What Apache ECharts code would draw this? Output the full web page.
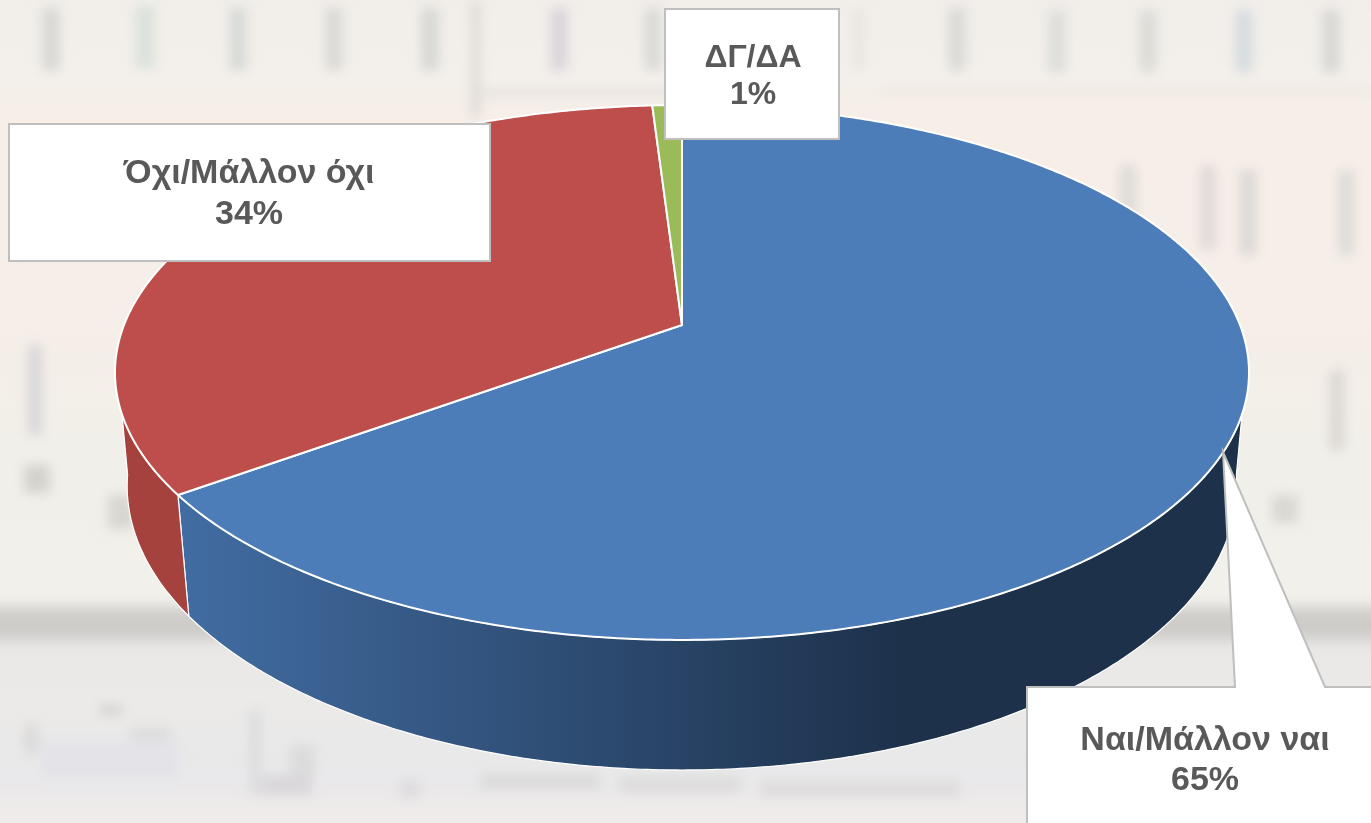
<!DOCTYPE html>
<html><head><meta charset="utf-8">
<style>
html,body{margin:0;padding:0;width:1371px;height:823px;overflow:hidden;background:#f3eeea}
#bg{position:absolute;left:-20px;top:-20px;width:1411px;height:863px;filter:blur(6px);overflow:hidden;background:linear-gradient(180deg,#f1eeea 0,#f3efea 100px,#f7eee8 140px,#f6eee8 340px,#f1efe9 470px,#f1f0ea 622px,#cfcdca 632px,#cdccc9 655px,#e9e8e6 665px,#ebeae8 720px,#e9e8ea 800px,#f0ecea 843px,#f0ecea 863px)}
#bg div{position:absolute}
#c{position:absolute;left:0;top:0;width:1371px;height:823px}
</style>
<script src="https://cdn.jsdelivr.net/npm/echarts@6/dist/echarts.min.js"></script>
</head><body>
<div id="bg"></div>
<div id="c"></div>
<script>
// ---- chart data ----
const categories = ['Ναι/Μάλλον ναι', 'Όχι/Μάλλον όχι', 'ΔΓ/ΔΑ'];
const values = [65, 34, 1];
const percentLabels = ['65%', '34%', '1%'];
const faceColors = ['#4c7db9', '#bd4e4b', '#9bbb59'];

// ---- perspective of the drawn disc (layout only) ----
const CX = 682, K = 0.1776;
const TOP = {a: 558, b: 259, y0: 325};
const BOT = {a: 546, b: 275, y0: 435.6};
const TOP_LIMIT = -19, BOT_LIMIT = -8; // silhouette angles, degrees below horizontal
const labelColor = '#595959', borderColor = '#bfbfbf';

// soft shapes of the faded photograph behind the chart
const bgTones = [
 [43,8,16,62,'#d6d6d3'],[136,6,18,62,'#d9e1db'],[230,8,16,62,'#d6d9d6'],[326,8,16,62,'#d9d8d5'],[422,8,16,62,'#d6d6d3'],
 [471,0,9,118,'#dedad5'],[551,8,16,62,'#dad3da'],[645,8,16,62,'#d9d9d7'],[855,8,8,62,'#e5e1dd'],[949,8,16,62,'#d9d9d6'],
 [1049,10,16,62,'#dcdcda'],[1140,10,16,62,'#dbdbd6'],[1236,10,16,62,'#d4dbdf'],[1323,10,16,62,'#d6d6d3'],
 [480,90,200,5,'#dedbd6'],[880,88,491,5,'#f0e6df'],
 [1120,165,16,85,'#dddbd7'],[1200,165,16,85,'#dfdbd9'],[1240,170,16,85,'#dad8d6'],[1338,170,16,85,'#dcdcd8'],
 [28,345,14,90,'#d8d6d8'],[24,465,26,28,'#d4d2cd'],[108,495,26,34,'#d8d6d0'],[1330,370,14,80,'#dad6d2'],[1272,495,26,28,'#dad8d2'],[1010,460,20,60,'#ede6e2'],
 [25,725,12,28,'#d8d7d6'],[100,705,22,10,'#d4d2d1'],[130,728,40,12,'#dcdbdb'],[250,710,10,85,'#dbdadc'],
 [290,745,24,30,'#dcdbdc'],[40,740,140,40,'#e4e3e8'],[262,775,50,20,'#d9d7db'],[400,780,20,18,'#dddbdd'],[480,775,120,14,'#dbdada'],
 [620,778,120,14,'#dbdad9'],[760,782,200,14,'#dddbda']
];
const bg = document.getElementById('bg');
bgTones.forEach(function (t) {
  const d = document.createElement('div');
  d.style.cssText = 'left:' + (t[0] + 20) + 'px;top:' + (t[1] + 20) + 'px;width:' + t[2] + 'px;height:' + t[3] + 'px;background:' + t[4];
  bg.appendChild(d);
});

// ---- geometry: clockwise angle from 12 o'clock, degrees -> picture point ----
function project(plane, deg) {
  const r = deg * Math.PI / 180, u = Math.sin(r), v = Math.cos(r), w = 1 + K * v;
  return [CX + plane.a * u / w, plane.y0 - plane.b * v / w];
}
const total = values.reduce(function (s, v) { return s + v; }, 0);
function sliceAngles(i) {
  let s = 0;
  for (let j = 0; j < i; j++) s += values[j];
  return [s / total * 360, (s + values[i]) / total * 360];
}
function arc(plane, from, to) {
  const pts = [], n = Math.max(2, Math.ceil(Math.abs(to - from) * 2));
  for (let k = 0; k <= n; k++) pts.push(project(plane, from + (to - from) * k / n));
  return pts;
}
const mapPts = function (api, pts) { return pts.map(function (p) { return api.coord(p); }); };

function renderSide(params, api) {
  const i = api.value(0), ang = sliceAngles(i);
  // visible part of the wall runs from the right silhouette to the left one
  const topA = [Math.max(ang[0], 90 + (-TOP_LIMIT)), Math.min(ang[1], 270 + TOP_LIMIT)];
  const botA = [Math.max(ang[0], 90 + (-BOT_LIMIT)), Math.min(ang[1], 270 + BOT_LIMIT)];
  if (topA[1] <= topA[0]) return null;
  const pts = arc(TOP, topA[0], topA[1]).concat(arc(BOT, botA[1], botA[0]));
  const fill = i === 0
    ? new echarts.graphic.LinearGradient(190, 0, 900, 0, [{offset: 0, color: '#416ca1'}, {offset: 1, color: '#1d314b'}], true)
    : (i === 1 ? '#a5423e' : '#7c9647');
  return {type: 'polygon', shape: {points: mapPts(api, pts)},
          style: {fill: fill, stroke: '#fff', lineWidth: 1.2, lineJoin: 'round'}};
}
function renderFace(params, api) {
  const i = api.value(0), ang = sliceAngles(i);
  const pts = [[CX, TOP.y0]].concat(arc(TOP, ang[0], ang[1]));
  return {type: 'polygon', shape: {points: mapPts(api, pts)},
          style: {fill: faceColors[i], stroke: '#fff', lineWidth: 2, lineJoin: 'round'}};
}
// label boxes (layout only): outline plus text anchor
const labelLayout = [
  {outline: [[1027,687],[1235,687],[1223,452],[1325,687],[1385,687],[1385,840],[1027,840]], x: 1205, y: [741, 781], size: 34},
  {outline: [[9,124],[490,124],[490,261],[9,261]], x: 249, y: [174, 215], size: 34},
  {outline: [[665,9],[839,9],[839,139],[665,139]], x: 753, y: [58, 95], size: 32}
];
function renderLabel(params, api) {
  const i = api.value(0), L = labelLayout[i];
  const text = function (str, y) {
    const p = api.coord([L.x, y]);
    return {type: 'text', z2: 5, x: p[0], y: p[1], style: {text: str, fill: labelColor, align: 'center', verticalAlign: 'middle',
            font: 'bold ' + L.size + 'px "Liberation Sans", Arial, sans-serif'}};
  };
  return {type: 'group', children: [
    {type: 'polygon', shape: {points: mapPts(api, L.outline)}, style: {fill: '#fff', stroke: borderColor, lineWidth: 2}},
    text(categories[i], L.y[0]), text(percentLabels[i], L.y[1])
  ]};
}
const seriesData = values.map(function (v, i) { return {name: categories[i], value: [i, v]}; });
const base = {type: 'custom', coordinateSystem: 'cartesian2d', data: seriesData, silent: true, clip: false, animation: false,
              encode: {x: 0, y: 1}};
const chart = echarts.init(document.getElementById('c'), null, {renderer: 'canvas'});
chart.setOption({
  backgroundColor: 'transparent',
  animation: false,
  grid: {left: 0, right: 0, top: 0, bottom: 0},
  xAxis: {type: 'value', min: 0, max: 1371, show: false},
  yAxis: {type: 'value', min: 0, max: 823, inverse: true, show: false},
  series: [
    Object.assign({}, base, {name: 'side', z: 2, renderItem: renderSide}),
    Object.assign({}, base, {name: 'face', z: 3, renderItem: renderFace}),
    Object.assign({}, base, {name: 'label', z: 4, renderItem: renderLabel})
  ]
});
</script>
</body></html>
